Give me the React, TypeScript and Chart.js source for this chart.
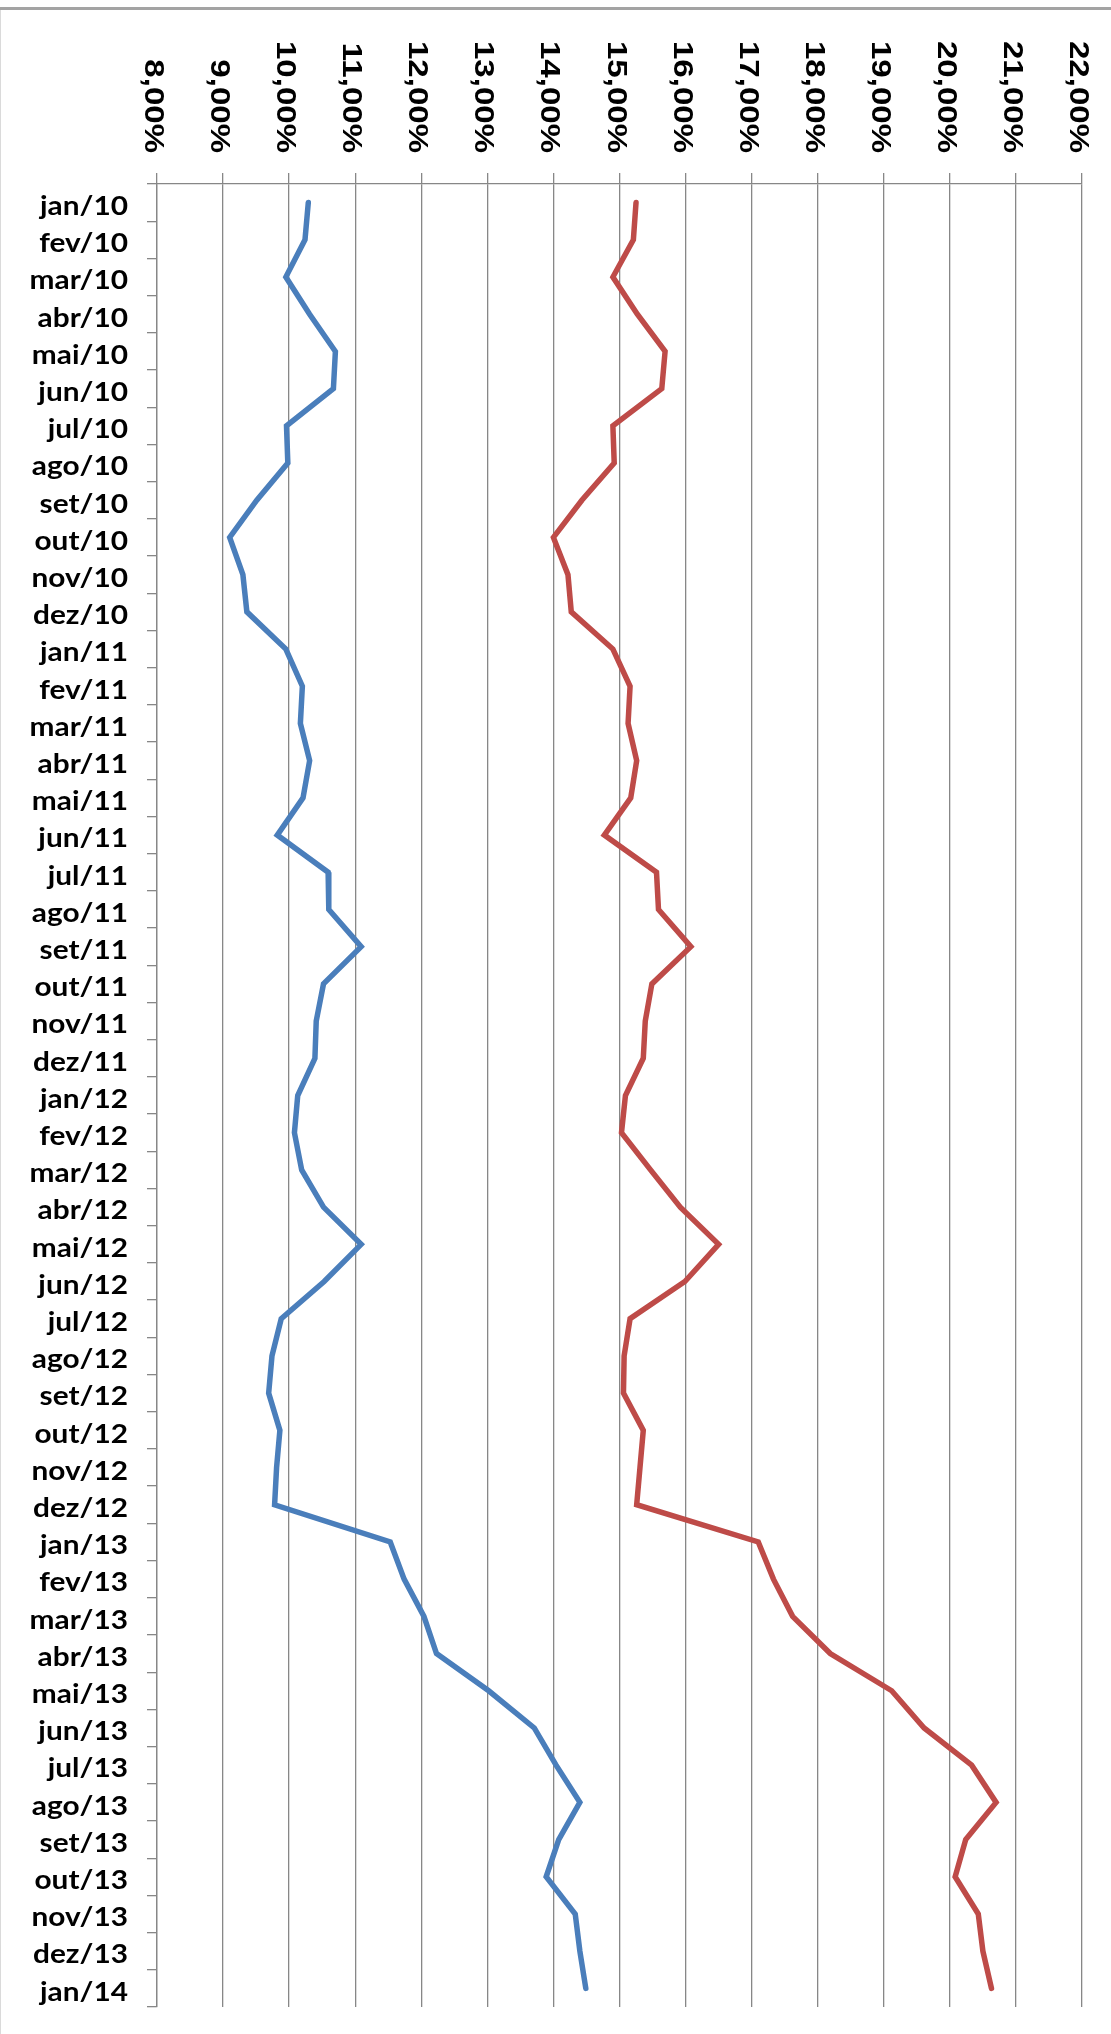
import React, { useEffect, useRef } from 'react';
import { Chart, registerables } from 'chart.js';

Chart.register(...registerables);

const CATEGORIES = [
  'jan/10', 'fev/10', 'mar/10', 'abr/10', 'mai/10', 'jun/10', 'jul/10', 'ago/10', 'set/10', 'out/10', 'nov/10', 'dez/10',
  'jan/11', 'fev/11', 'mar/11', 'abr/11', 'mai/11', 'jun/11', 'jul/11', 'ago/11', 'set/11', 'out/11', 'nov/11', 'dez/11',
  'jan/12', 'fev/12', 'mar/12', 'abr/12', 'mai/12', 'jun/12', 'jul/12', 'ago/12', 'set/12', 'out/12', 'nov/12', 'dez/12',
  'jan/13', 'fev/13', 'mar/13', 'abr/13', 'mai/13', 'jun/13', 'jul/13', 'ago/13', 'set/13', 'out/13', 'nov/13', 'dez/13',
  'jan/14',
];

const SERIES_BLUE = [
  10.29, 10.24, 9.95, 10.31, 10.70, 10.67, 9.96, 9.98, 9.51, 9.10, 9.30, 9.36,
  9.95, 10.20, 10.17, 10.31, 10.21, 9.82, 10.59, 10.60, 11.09, 10.52, 10.41, 10.39,
  10.13, 10.08, 10.19, 10.52, 11.09, 10.53, 9.88, 9.74, 9.69, 9.86, 9.81, 9.78,
  11.53, 11.74, 12.04, 12.23, 13.02, 13.71, 14.04, 14.40, 14.08, 13.89, 14.33, 14.40,
  14.49,
];

const SERIES_RED = [
  15.25, 15.21, 14.90, 15.27, 15.69, 15.64, 14.90, 14.92, 14.43, 14.00, 14.22, 14.27,
  14.90, 15.16, 15.13, 15.26, 15.17, 14.77, 15.56, 15.59, 16.08, 15.49, 15.39, 15.36,
  15.09, 15.03, 15.47, 15.92, 16.50, 15.99, 15.16, 15.07, 15.06, 15.36, 15.31, 15.26,
  17.10, 17.33, 17.62, 18.19, 19.12, 19.61, 20.33, 20.70, 20.24, 20.08, 20.43, 20.50,
  20.63,
];

const X_TICKS = [8, 9, 10, 11, 12, 13, 14, 15, 16, 17, 18, 19, 20, 21, 22];
const X_TICK_LABELS = [
  '8,00%', '9,00%', '10,00%', '11,00%', '12,00%', '13,00%', '14,00%', '15,00%',
  '16,00%', '17,00%', '18,00%', '19,00%', '20,00%', '21,00%', '22,00%',
];

const GRID_COLOR = '#878787';
const BLUE = '#4A7EBB';
const RED = '#BE4B48';

const labelPlugin = {
  id: 'excelLabels',
  afterDraw(chart: any) {
    const ctx = chart.ctx as CanvasRenderingContext2D;
    const xs = chart.scales.x;
    const ys = chart.scales.y;
    const area = chart.chartArea;
    ctx.save();
    ctx.fillStyle = '#000000';

    // category labels (left)
    ctx.font = 'bold 26px Lato';
    ctx.textAlign = 'right';
    ctx.textBaseline = 'alphabetic';
    const refW = ctx.measureText('jan/10').width;
    const sy = 88 / refW;
    CATEGORIES.forEach((c, i) => {
      const y = ys.getPixelForValue(i);
      ctx.save();
      ctx.translate(area.left - 29, y + 12.3);
      ctx.scale(sy, 1);
      ctx.fillText(c, 0, 0);
      ctx.restore();
    });

    // value labels (top), rotated clockwise
    ctx.font = 'bold 27px "Liberation Sans"';
    ctx.textAlign = 'right';
    ctx.textBaseline = 'alphabetic';
    const refX = ctx.measureText('22,00%').width;
    const sx = 112 / refX;
    X_TICKS.forEach((v, i) => {
      const x = xs.getPixelForValue(v);
      ctx.save();
      ctx.translate(x - 12, area.top - 31);
      ctx.rotate(Math.PI / 2);
      ctx.scale(sx, 1);
      ctx.fillText(X_TICK_LABELS[i], 0, 0);
      ctx.restore();
    });
    ctx.restore();
  },
};

export default function App() {
  const canvasRef = useRef<HTMLCanvasElement>(null);

  useEffect(() => {
    const canvas = canvasRef.current;
    if (!canvas) return;
    const chart = new Chart(canvas, {
      type: 'line',
      data: {
        labels: CATEGORIES,
        datasets: [
          {
            label: 'Série 1',
            data: SERIES_BLUE,
            borderColor: BLUE,
            backgroundColor: BLUE,
            borderWidth: 5.5,
            pointRadius: 0,
            tension: 0,
            borderCapStyle: 'round',
            borderJoinStyle: 'miter',
            fill: false,
          },
          {
            label: 'Série 2',
            data: SERIES_RED,
            borderColor: RED,
            backgroundColor: RED,
            borderWidth: 5.5,
            pointRadius: 0,
            tension: 0,
            borderCapStyle: 'round',
            borderJoinStyle: 'miter',
            fill: false,
          },
        ],
      },
      options: {
        indexAxis: 'y',
        animation: false,
        responsive: true,
        maintainAspectRatio: false,
        layout: { padding: { left: 0, top: 0, right: 29, bottom: 27 } },
        plugins: {
          legend: { display: false },
          tooltip: { enabled: false },
          title: { display: false },
        },
        scales: {
          x: {
            type: 'linear',
            position: 'top',
            min: 8,
            max: 22,
            ticks: { stepSize: 1, display: false },
            grid: { color: GRID_COLOR, lineWidth: 1.3, tickLength: 11, drawTicks: true },
            border: { display: true, color: GRID_COLOR, width: 1.3 },
            afterFit: (s: any) => {
              s.height = 184;
            },
          },
          y: {
            type: 'category',
            offset: true,
            ticks: { display: false },
            grid: { offset: true, drawOnChartArea: false, tickLength: 10, color: GRID_COLOR, lineWidth: 1.3 },
            border: { display: true, color: GRID_COLOR, width: 1.3 },
            afterFit: (s: any) => {
              s.width = 157;
            },
          },
        },
      },
      plugins: [labelPlugin],
    } as any);
    return () => chart.destroy();
  }, []);

  return (
    <div style={{ position: 'absolute', left: 0, top: 0, width: 1111, height: 2034, background: '#ffffff', overflow: 'hidden' }}>
      <div style={{ position: 'absolute', left: 0, top: 7, width: 1111, height: 3, background: '#a3a3a3' }} />
      <div style={{ position: 'absolute', left: 0, top: 10, width: 1, height: 2024, background: '#dadada' }} />
      <div style={{ position: 'absolute', left: 0, top: 0, width: 1111, height: 2034 }}>
        <canvas ref={canvasRef} />
      </div>
    </div>
  );
}
